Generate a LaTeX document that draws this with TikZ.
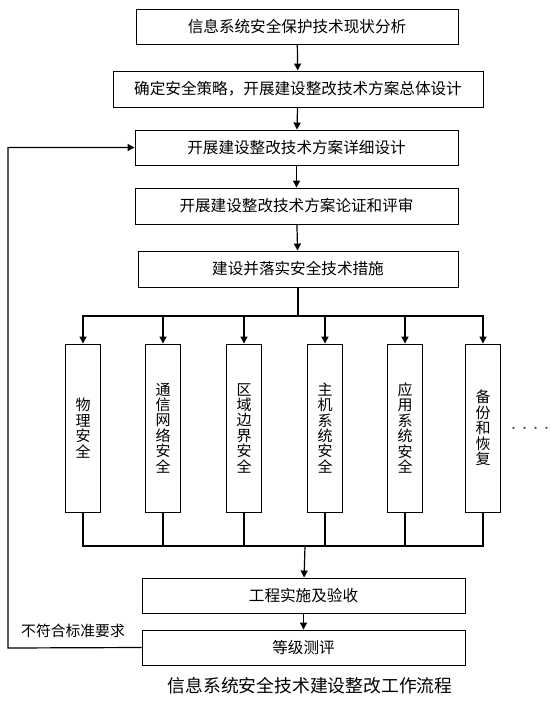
\documentclass[tikz,border=0pt]{standalone}
\usepackage{fontspec}
\setmainfont{Noto Sans CJK SC}
\usetikzlibrary{arrows.meta}

\begin{document}
\begin{tikzpicture}[x=1pt,y=-1pt]
\tikzset{
  stepbox/.style={draw,line width=0.9pt,minimum height=35pt,inner sep=1pt,font=\fontsize{15.6}{17}\selectfont},
  vbox/.style={draw,line width=0.9pt,minimum width=35pt,minimum height=168pt,inner sep=1pt,align=center,font=\fontsize{15}{15.4}\selectfont},
  flow/.style={-{Triangle[length=7pt,width=7pt]},line width=1.2pt},
  bus/.style={line width=1.2pt}
}
\useasboundingbox (0,0) rectangle (551,704);
\node[stepbox,minimum width=322pt] (n_status) at (297,26.5) {信息系统安全保护技术现状分析};
\node[stepbox,minimum width=370pt,minimum height=36pt] (n_overall) at (298,89) {确定安全策略，开展建设整改技术方案总体设计};
\node[stepbox,minimum width=323pt] (n_detail) at (296.5,147.5) {开展建设整改技术方案详细设计};
\node[stepbox,minimum width=323pt,minimum height=36pt] (n_review) at (296.5,206) {开展建设整改技术方案论证和评审};
\node[stepbox,minimum width=320pt,minimum height=36pt] (n_build) at (298,269) {建设并落实安全技术措施};
\node[vbox] (n_v1) at (83,428) {物\\理\\安\\全};
\node[vbox] (n_v2) at (163,428) {通\\信\\网\\络\\安\\全};
\node[vbox] (n_v3) at (244,428) {区\\域\\边\\界\\安\\全};
\node[vbox] (n_v4) at (325,428) {主\\机\\系\\统\\安\\全};
\node[vbox] (n_v5) at (405,428) {应\\用\\系\\统\\安\\全};
\node[vbox] (n_v6) at (483,428) {备\\份\\和\\恢\\复};
\node[font=\fontsize{11}{11}\selectfont,text=black!70] (n_more) at (530,430) {····};
\node[stepbox,minimum width=323pt] (n_accept) at (303.5,595.5) {工程实施及验收};
\node[stepbox,minimum width=323pt] (n_eval) at (303.5,647.5) {等级测评};
\node[font=\fontsize{14.8}{16}\selectfont] (n_fail) at (73,631) {不符合标准要求};
\node[font=\fontsize{17.8}{19}\selectfont] (n_title) at (310,686) {信息系统安全技术建设整改工作流程};
\coordinate (topbus) at (298,316);
\coordinate (botbus) at (305,546);
\coordinate (fb) at (8,648);
\draw[flow] (n_status) -- (n_overall);
\draw[flow] (n_overall) -- (n_detail);
\draw[flow] (n_detail) -- (n_review);
\draw[flow] (n_review) -- (n_build);
\draw[bus] (n_build) -- (topbus);
\foreach \v in {n_v1,n_v2,n_v3,n_v4,n_v5,n_v6}{
  \draw[flow] (topbus) -| (\v.north);
  \draw[bus] (\v.south) |- (botbus);
}
\draw[flow] (botbus) -- (n_accept);
\draw[flow] (n_accept) -- (n_eval);
% back to the detailed design when the evaluation fails
\draw[flow] (n_eval.west) -- (fb) |- (n_detail.west);
\end{tikzpicture}
\end{document}
